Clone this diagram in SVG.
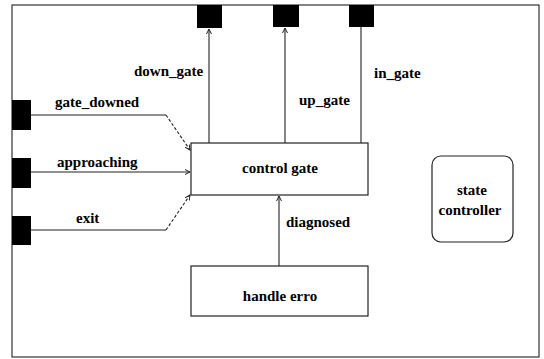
<svg xmlns="http://www.w3.org/2000/svg" width="544" height="359" viewBox="0 0 544 359">
  <style>
    .frame { fill: none; stroke: #333; stroke-width: 1.2; }
    .box { fill: #fff; stroke: #222; stroke-width: 1.2; }
    .port { fill: #000; }
    .wire { fill: none; stroke: #222; stroke-width: 1.1; }
    .dash { fill: none; stroke: #222; stroke-width: 1.1; stroke-dasharray: 3 2; }
    text { font-weight: bold; font-size: 15px; fill: #000; }
    .mid { text-anchor: middle; }
  </style>
  <defs>
    <marker id="arrow" markerWidth="6" markerHeight="6" refX="5" refY="3" orient="auto" markerUnits="userSpaceOnUse">
      <path d="M0,0.5 L5,3 L0,5.5" fill="none" stroke="#222" stroke-width="1"/>
    </marker>
  </defs>

  <rect width="544" height="359" fill="#fff"/>

  <!-- outer boundary -->
  <rect class="frame" x="12" y="5" width="527" height="352"/>

  <!-- boundary ports -->
  <g id="port-down-gate"><rect class="port" x="197" y="5" width="25" height="23"/></g>
  <g id="port-up-gate"><rect class="port" x="273" y="5" width="26" height="22"/></g>
  <g id="port-in-gate"><rect class="port" x="349" y="5" width="25" height="22"/></g>
  <g id="port-gate-downed"><rect class="port" x="12" y="100" width="19" height="30"/></g>
  <g id="port-approaching"><rect class="port" x="12" y="158" width="19" height="30"/></g>
  <g id="port-exit"><rect class="port" x="12" y="216" width="19" height="29"/></g>

  <!-- connectors -->
  <g id="connectors">
    <path class="wire" d="M209,143 L209,29" marker-end="url(#arrow)"/>
    <path class="wire" d="M285,143 L285,28" marker-end="url(#arrow)"/>
    <path class="wire" d="M361,27 L361,143"/>
    <path class="wire" d="M31,115 L166,115"/>
    <path class="dash" d="M166,115 L190,150" marker-end="url(#arrow)"/>
    <path class="wire" d="M31,172 L190,172" marker-end="url(#arrow)"/>
    <path class="wire" d="M31,230 L166,230"/>
    <path class="dash" d="M166,230 L190,195" marker-end="url(#arrow)"/>
    <path class="wire" d="M279,266 L279,196" marker-end="url(#arrow)"/>
  </g>

  <!-- connector labels -->
  <g id="labels" font-family="Liberation Serif, Times New Roman, serif">
    <text x="134" y="76">down_gate</text>
    <text x="299" y="105">up_gate</text>
    <text x="374" y="78">in_gate</text>
    <text x="55" y="107">gate_downed</text>
    <text x="57" y="167">approaching</text>
    <text x="76" y="223">exit</text>
    <text x="286" y="227">diagnosed</text>
  </g>

  <!-- processes -->
  <g id="control-gate" font-family="Liberation Serif, Times New Roman, serif">
    <rect class="box" x="191" y="143" width="177" height="52"/>
    <text class="mid" x="280" y="173">control gate</text>
  </g>
  <g id="handle-erro" font-family="Liberation Serif, Times New Roman, serif">
    <rect class="box" x="191" y="266" width="177" height="50"/>
    <text class="mid" x="280" y="301">handle erro</text>
  </g>
  <g id="state-controller" font-family="Liberation Serif, Times New Roman, serif">
    <rect class="box" x="432" y="156" width="81" height="86" rx="9" ry="9"/>
    <text class="mid" x="472" y="195">state</text>
    <text class="mid" x="470" y="215">controller</text>
  </g>
</svg>
